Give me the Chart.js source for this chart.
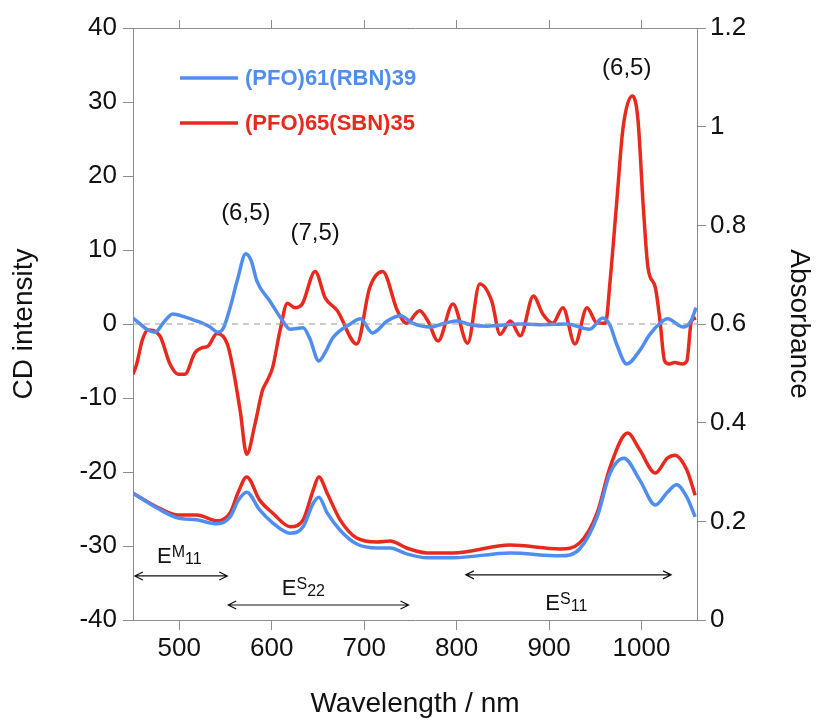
<!DOCTYPE html>
<html>
<head>
<meta charset="utf-8">
<script src="https://cdn.jsdelivr.net/npm/chart.js@4.4.0/dist/chart.umd.min.js"></script>
<style>
  html, body { margin: 0; padding: 0; background: #fff; }
</style>
</head>
<body>
<canvas id="c" width="816" height="721"></canvas>
<script>
// CD spectra (left axis)
const wlBlueCD = [450, 455, 466, 474, 483, 493, 505, 519, 532, 542, 548, 555, 563, 572, 578, 584, 598, 612, 620, 634,
  641, 651, 658, 666, 685, 696, 709, 725, 739, 753, 771, 790, 800, 815, 833, 869, 890, 919, 944, 958,
  966, 973, 984, 998, 1009, 1020, 1028, 1045, 1053, 1059];
const blueCD = [0.8, 0.3, -0.8, -1.1, 0.2, 1.35, 1.0, 0.4, -0.3, -1.1, -0.5, 2.2, 6.0, 9.5, 8.5, 5.8, 3.1, 0.4, -0.7, -0.5,
  -1.9, -5.0, -3.8, -1.9, 0.0, 0.7, -1.2, 0.4, 1.1, 0.1, -0.4, 0.2, 0.4, -0.1, -0.3, 0.0, -0.1, 0.0, -0.7, 0.8,
  -0.2, -2.7, -5.4, -3.6, -1.4, 0.1, 0.7, -0.4, 0.3, 2.2];

const wlRedCD = [450, 454, 460, 466, 479, 490, 499, 506, 517, 525, 531, 541, 552, 558, 566, 573, 582, 590, 595, 601,
  609, 617, 625, 633, 647, 658, 671, 692, 706, 720, 736, 746, 760, 769, 780, 796, 812, 825, 838, 847,
  858, 869, 883, 893, 904, 915, 928, 941, 952, 961, 966, 973, 980, 990, 996, 1002, 1007, 1015, 1020, 1025,
  1030, 1036, 1044, 1049, 1054, 1059];
const redCD = [-6.8, -5.4, -2.2, -0.8, -1.6, -5.4, -6.8, -6.8, -3.9, -3.2, -3.0, -1.3, -2.7, -5.9, -11.8, -17.6, -13.5, -9.0, -7.7, -5.9,
  -0.9, 2.8, 2.2, 2.7, 7.1, 3.5, 1.8, -2.7, 4.9, 7.1, 1.8, 0.1, 1.8, 0.4, -2.3, 2.7, -2.6, 5.4, 3.1, -1.4,
  0.4, -1.6, 3.8, 1.4, 0.1, 2.2, -2.7, 2.2, 0.1, 0.1, 5.8, 16.2, 26.5, 30.8, 27.8, 15.7, 7.6, 4.9, 0.4, -5.0,
  -5.4, -5.2, -5.4, -5.0, 0.4, 0.8];

// absorbance spectra (right axis)
const wlBlueAbs = [450, 476, 498, 519, 541, 555, 564, 573, 587, 601, 620, 634, 645, 651, 660, 674, 692, 714, 728, 746,
  768, 796, 858, 912, 933, 952, 966, 981, 998, 1015, 1028, 1038, 1049, 1058];
const blueAbs = [0.257, 0.227, 0.207, 0.203, 0.195, 0.209, 0.243, 0.259, 0.223, 0.197, 0.176, 0.189, 0.237, 0.249, 0.217, 0.182, 0.154, 0.146, 0.146, 0.134,
  0.126, 0.126, 0.136, 0.130, 0.144, 0.209, 0.298, 0.328, 0.284, 0.233, 0.259, 0.274, 0.249, 0.209];

const wlRedAbs = [450, 476, 498, 519, 541, 555, 564, 573, 587, 601, 620, 634, 645, 651, 660, 674, 692, 714, 728, 746,
  768, 796, 858, 912, 933, 952, 966, 985, 998, 1015, 1028, 1036, 1049, 1058];
const redAbs = [0.257, 0.229, 0.213, 0.213, 0.201, 0.217, 0.260, 0.290, 0.243, 0.217, 0.189, 0.203, 0.264, 0.290, 0.257, 0.203, 0.166, 0.158, 0.160, 0.146,
  0.136, 0.136, 0.152, 0.144, 0.156, 0.217, 0.310, 0.379, 0.345, 0.298, 0.328, 0.334, 0.304, 0.253];

const seriesNames = ['(PFO)61(RBN)39', '(PFO)65(SBN)35'];
const xTicks = [500, 600, 700, 800, 900, 1000];
const cdTicks = [-40, -30, -20, -10, 0, 10, 20, 30, 40];
const absTicks = [0, 0.2, 0.4, 0.6, 0.8, 1.0, 1.2];

// peak labels: text, wavelength, CD value
const peakText = ['(6,5)', '(7,5)', '(6,5)'];
const peakX = [572, 647, 984];
const peakY = [14.9, 12.2, 34.5];

// transition ranges: label parts, label anchor, arrow span
const transSup = ['M', 'S', 'S'];
const transSub = ['11', '22', '11'];
const transLabelX = [476, 611, 896];
const transLabelY = [-32.3, -36.6, -38.6];
const transFrom = [452, 553, 810];
const transTo = [552, 748, 1032];
const transArrowY = [-34.05, -37.97, -33.9];

const BLUE = '#4f8ef0';
const RED = '#e82a1e';
const AXIS = '#8c8c8c';
const FONT = "'Liberation Sans', Arial, sans-serif";

const pts = (xs, ys) => xs.map((x, i) => ({x: x, y: ys[i]}));

function setTicks(vals) {
    return (scale) => { scale.ticks = vals.map(v => ({value: v})); };
}

function arrow(ctx, x1, x2, y) {
    ctx.beginPath();
    ctx.moveTo(x1, y); ctx.lineTo(x2, y);
    ctx.moveTo(x1 + 8, y - 4); ctx.lineTo(x1, y); ctx.lineTo(x1 + 8, y + 4);
    ctx.moveTo(x2 - 8, y - 4); ctx.lineTo(x2, y); ctx.lineTo(x2 - 8, y + 4);
    ctx.stroke();
}

const extras = {
    id: 'extras',
    afterDatasetsDraw(chart) {
	const ctx = chart.ctx;
	const xs = chart.scales.x, ys = chart.scales.y;
	const area = chart.chartArea;
	ctx.save();

	// legend
	const colors = [BLUE, RED];
	seriesNames.forEach((name, i) => {
	    const y = area.top + 50 + i * 45;
	    ctx.strokeStyle = colors[i];
	    ctx.lineWidth = 3.5;
	    ctx.beginPath();
	    ctx.moveTo(area.left + 47, y);
	    ctx.lineTo(area.left + 105, y);
	    ctx.stroke();
	    ctx.fillStyle = colors[i];
	    ctx.font = `bold 22px ${FONT}`;
	    ctx.textAlign = 'left';
	    ctx.textBaseline = 'middle';
	    ctx.fillText(name, area.left + 112, y + 1);
	});

	// peak labels
	ctx.fillStyle = '#111';
	ctx.font = `24px ${FONT}`;
	ctx.textAlign = 'center';
	ctx.textBaseline = 'middle';
	peakText.forEach((t, i) => {
	    ctx.fillText(t, xs.getPixelForValue(peakX[i]), ys.getPixelForValue(peakY[i]));
	});

	// transition ranges
	ctx.strokeStyle = '#111';
	ctx.lineWidth = 1.2;
	ctx.textAlign = 'left';
	ctx.textBaseline = 'alphabetic';
	transSup.forEach((sup, i) => {
	    arrow(ctx, xs.getPixelForValue(transFrom[i]), xs.getPixelForValue(transTo[i]),
		  ys.getPixelForValue(transArrowY[i]));
	    let x = xs.getPixelForValue(transLabelX[i]);
	    const y = ys.getPixelForValue(transLabelY[i]);
	    ctx.font = `22px ${FONT}`;
	    ctx.fillText('E', x, y);
	    x += ctx.measureText('E').width;
	    ctx.font = `16px ${FONT}`;
	    ctx.fillText(sup, x, y - 6);
	    x += ctx.measureText(sup).width;
	    ctx.fillText(transSub[i], x, y + 1);
	});
	ctx.restore();
    }
};

const gridOpts = (len) => ({
    drawOnChartArea: false,
    drawTicks: true,
    tickLength: len,
    color: AXIS,
    lineWidth: 1
});
const borderOpts = {display: true, color: AXIS, width: 1};
const tickFont = {family: FONT, size: 26};

new Chart(document.getElementById('c'), {
    type: 'line',
    data: {
	datasets: [{
	    label: 'zero',
	    data: [{x: 450, y: 0}, {x: 1060, y: 0}],
	    borderColor: '#9a9a9a',
	    borderWidth: 1.2,
	    borderDash: [6, 5],
	    yAxisID: 'y'
	}, {
	    label: seriesNames[0] + ' CD',
	    data: pts(wlBlueCD, blueCD),
	    borderColor: BLUE,
	    yAxisID: 'y'
	}, {
	    label: seriesNames[0] + ' abs',
	    data: pts(wlBlueAbs, blueAbs),
	    borderColor: BLUE,
	    yAxisID: 'y2'
	}, {
	    label: seriesNames[1] + ' CD',
	    data: pts(wlRedCD, redCD),
	    borderColor: RED,
	    yAxisID: 'y'
	}, {
	    label: seriesNames[1] + ' abs',
	    data: pts(wlRedAbs, redAbs),
	    borderColor: RED,
	    yAxisID: 'y2'
	}]
    },
    options: {
	responsive: false,
	animation: false,
	parsing: false,
	layout: {padding: 0},
	elements: {
	    point: {radius: 0},
	    line: {borderWidth: 3.5, cubicInterpolationMode: 'monotone', fill: false}
	},
	plugins: {
	    legend: {display: false},
	    tooltip: {enabled: false}
	},
	scales: {
	    x: {
		type: 'linear',
		position: 'bottom',
		min: 450,
		max: 1060,
		afterBuildTicks: setTicks(xTicks),
		afterFit: (s) => { s.height = 101; },
		grid: gridOpts(10),
		border: borderOpts,
		ticks: {font: tickFont, color: '#111', padding: 3, maxRotation: 0,
			callback: (v) => String(v)},
		title: {
		    display: true,
		    text: 'Wavelength / nm',
		    font: {family: FONT, size: 28},
		    color: '#111',
		    padding: 0
		}
	    },
	    xTop: {
		type: 'linear',
		position: 'top',
		min: 450,
		max: 1060,
		afterBuildTicks: setTicks(xTicks),
		afterFit: (s) => { s.height = 28; },
		grid: gridOpts(8),
		border: borderOpts,
		ticks: {display: false}
	    },
	    y: {
		type: 'linear',
		position: 'left',
		min: -40,
		max: 40,
		afterBuildTicks: setTicks(cdTicks),
		afterFit: (s) => { s.width = 133; },
		grid: gridOpts(10),
		border: borderOpts,
		ticks: {font: tickFont, color: '#111', padding: 6},
		title: {
		    display: true,
		    text: 'CD intensity',
		    font: {family: FONT, size: 28},
		    color: '#111',
		    padding: {top: 7, bottom: 0}
		}
	    },
	    y2: {
		type: 'linear',
		position: 'right',
		min: 0,
		max: 1.2,
		afterBuildTicks: setTicks(absTicks),
		afterFit: (s) => { s.width = 119; },
		grid: gridOpts(9),
		border: borderOpts,
		ticks: {
		    font: tickFont,
		    color: '#111',
		    padding: 4,
		    callback: (v) => String(Math.round(v * 10) / 10)
		},
		title: {
		    display: true,
		    text: 'Absorbance',
		    font: {family: FONT, size: 28},
		    color: '#111',
		    padding: {top: 0, bottom: 0}
		}
	    }
	}
    },
    plugins: [extras]
});
</script>
</body>
</html>
